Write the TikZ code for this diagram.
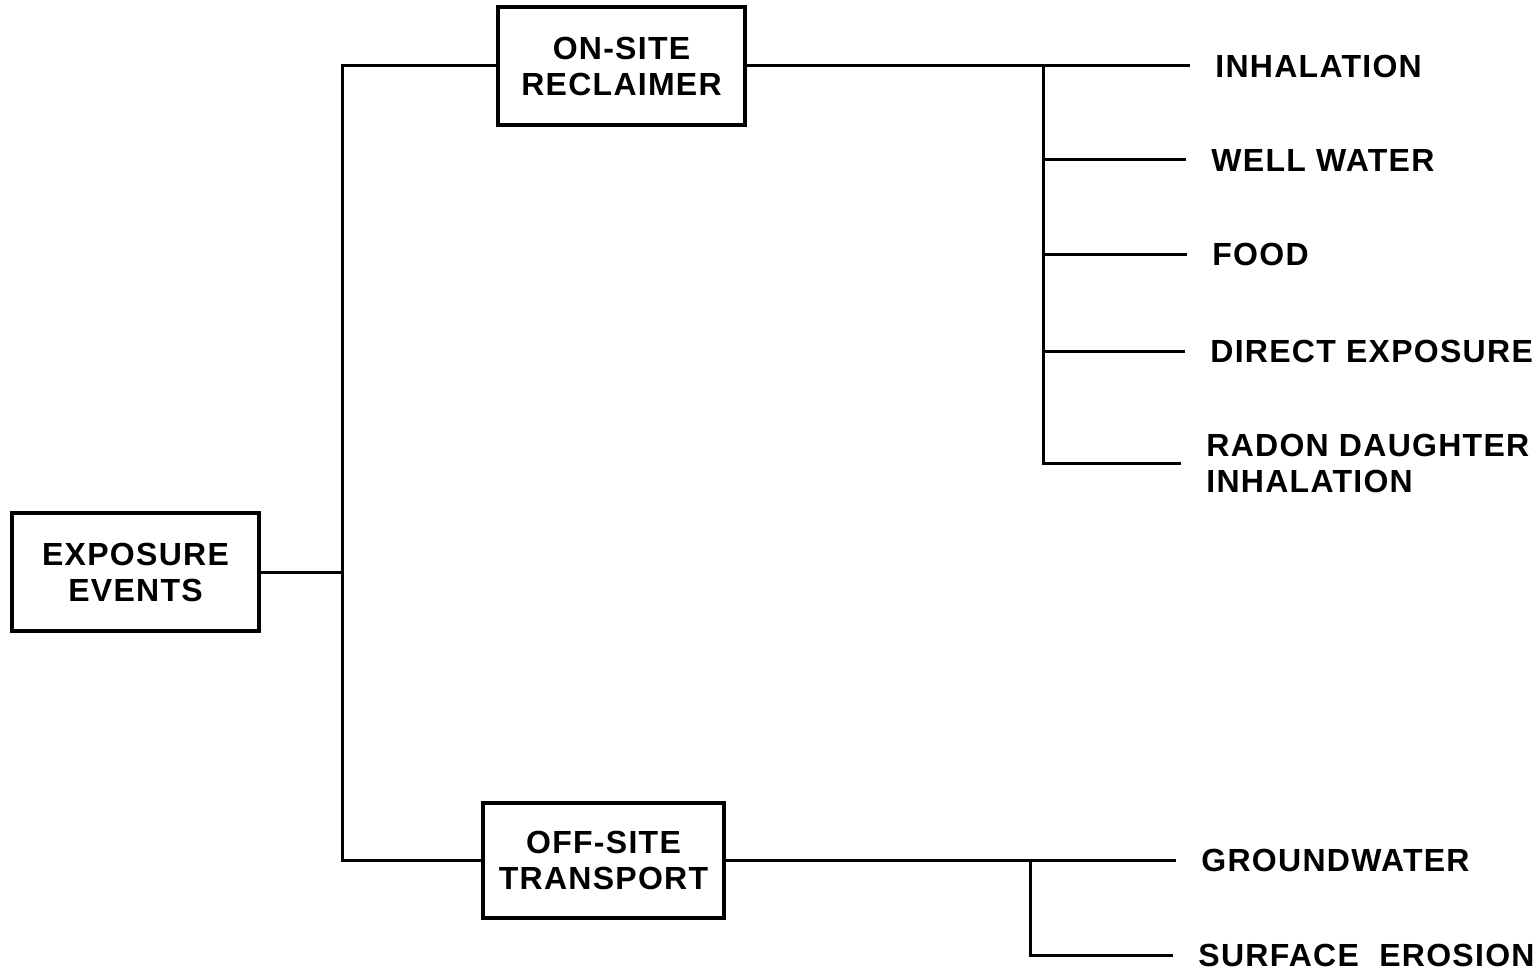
\documentclass[tikz,border=0pt]{standalone}
\usepackage{fontspec}
\setmainfont{Liberation Sans}[LetterSpace=4]
\begin{document}
\begin{tikzpicture}[x=0.5pt,y=-0.5pt,
  box/.style={draw,line width=2pt,minimum width=#1,inner sep=0pt,align=center,
    font=\fontsize{16}{18}\selectfont\bfseries},
  lbl/.style={anchor=west,inner xsep=12.5pt,inner ysep=0pt,align=left,
    font=\fontsize{16}{18}\selectfont\bfseries},
  conn/.style={line width=1.5pt}]
\useasboundingbox (0,0) rectangle (1537,974);
\node[box=123.5pt,minimum height=59pt] (ex) at (135.5,572) {EXPOSURE\\EVENTS};
\node[box=123.5pt,minimum height=59pt] (on) at (621.5,66) {ON-SITE\\RECLAIMER};
\node[box=120.5pt,minimum height=57.5pt] (off) at (603.5,860) {OFF-SITE\\TRANSPORT};
\coordinate (jt) at (342,66);
\coordinate (jb) at (342,860);
\coordinate (jm) at (342,572);
\draw[conn] (on.west) -- (jt) -- (jb) -- (off.west);
\draw[conn] (ex.east) -- (jm);
% on-site branches
\node[lbl] (inh) at (1190,66) {INHALATION};
\node[lbl] (ww) at (1186,160) {WELL WATER};
\node[lbl] (food) at (1187,254) {FOOD};
\node[lbl] (dir) at (1185,351) {DIRECT EXPOSURE};
\node[lbl] (rad) at (1181,463) {RADON DAUGHTER\\INHALATION};
\coordinate (t1) at (1043,66);
\coordinate (t2) at (1043,160);
\coordinate (t3) at (1043,254);
\coordinate (t4) at (1043,351);
\coordinate (t5) at (1043,463);
\draw[conn] (on.east) -- (inh.west);
\draw[conn] (t1) -- (t5) -- (rad.west);
\draw[conn] (t2) -- (ww.west);
\draw[conn] (t3) -- (food.west);
\draw[conn] (t4) -- (dir.west);
% off-site branches
\node[lbl] (gw) at (1176,860) {GROUNDWATER};
\node[lbl] (se) at (1173,955) {SURFACE\ \ EROSION};
\coordinate (b1) at (1030,860);
\coordinate (b2) at (1030,955);
\draw[conn] (off.east) -- (gw.west);
\draw[conn] (b1) -- (b2) -- (se.west);
\end{tikzpicture}
\end{document}
